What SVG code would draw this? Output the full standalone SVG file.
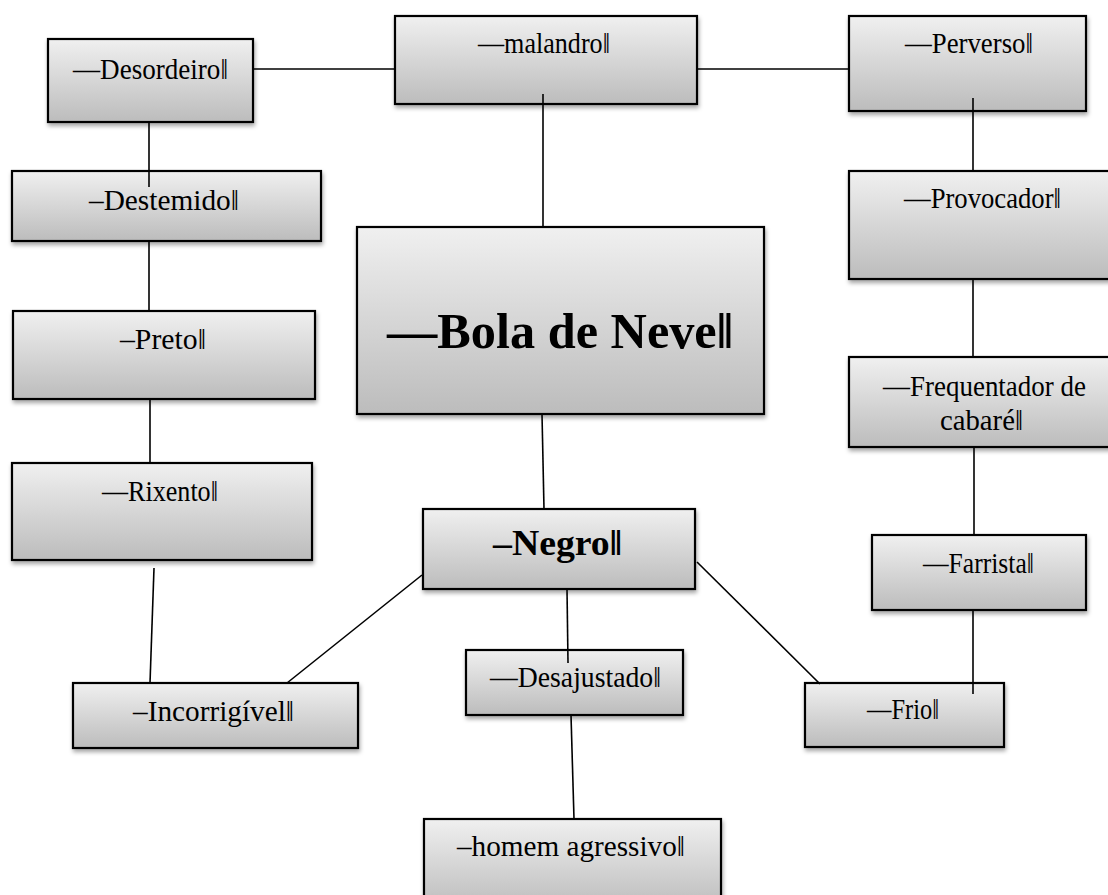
<svg xmlns="http://www.w3.org/2000/svg" width="1108" height="895" viewBox="0 0 1108 895">
<defs>
<linearGradient id="g" x1="0" y1="0" x2="0" y2="1">
<stop offset="0" stop-color="#f0f0f0"/>
<stop offset="1" stop-color="#bcbcbc"/>
</linearGradient>
<filter id="sh" x="-5%" y="-5%" width="115%" height="125%">
<feDropShadow dx="1" dy="3" stdDeviation="2" flood-color="#000" flood-opacity="0.35"/>
</filter>
</defs>
<style>
.box{fill:url(#g);stroke:#000;stroke-width:2.2;filter:url(#sh)}
.t{font-family:"Liberation Serif","Times New Roman",serif;font-size:29px;fill:#000}
.b{font-family:"Liberation Serif","Times New Roman",serif;font-weight:bold;fill:#000}
.c line{stroke:#000;stroke-width:1.6}
</style>
<rect width="1108" height="895" fill="#fff"/>
<g id="n-desordeiro"><rect class="box" x="48" y="39" width="205" height="83"/><text class="t" x="73" y="79" textLength="155" lengthAdjust="spacingAndGlyphs">—Desordeiro‖</text></g>
<g id="n-malandro"><rect class="box" x="395" y="16" width="302" height="88"/><text class="t" x="478" y="53" textLength="132" lengthAdjust="spacingAndGlyphs">—malandro‖</text></g>
<g id="n-perverso"><rect class="box" x="849" y="16" width="237" height="95"/><text class="t" x="905" y="53" textLength="128" lengthAdjust="spacingAndGlyphs">—Perverso‖</text></g>
<g id="n-destemido"><rect class="box" x="12" y="171" width="309" height="70"/><text class="t" x="89" y="210" textLength="150" lengthAdjust="spacingAndGlyphs">–Destemido‖</text></g>
<g id="n-provocador"><rect class="box" x="849" y="171" width="265" height="108"/><text class="t" x="904" y="208" textLength="157" lengthAdjust="spacingAndGlyphs">—Provocador‖</text></g>
<g id="n-bola"><rect class="box" x="357" y="227" width="407" height="187"/><text class="b" font-size="51" x="387" y="348" textLength="346" lengthAdjust="spacingAndGlyphs">—Bola de Neve‖</text></g>
<g id="n-preto"><rect class="box" x="13" y="311" width="302" height="88"/><text class="t" x="120" y="349" textLength="86" lengthAdjust="spacingAndGlyphs">–Preto‖</text></g>
<g id="n-frequentador"><rect class="box" x="849" y="357" width="265" height="90"/><text class="t" x="883" y="396" textLength="203" lengthAdjust="spacingAndGlyphs">—Frequentador de</text><text class="t" x="940" y="430" textLength="83" lengthAdjust="spacingAndGlyphs">cabaré‖</text></g>
<g id="n-rixento"><rect class="box" x="12" y="463" width="300" height="97"/><text class="t" x="102" y="501" textLength="116" lengthAdjust="spacingAndGlyphs">—Rixento‖</text></g>
<g id="n-negro"><rect class="box" x="423" y="509" width="272" height="80"/><text class="b" font-size="36" x="493" y="555" textLength="129" lengthAdjust="spacingAndGlyphs">–Negro‖</text></g>
<g id="n-farrista"><rect class="box" x="872" y="535" width="214" height="75"/><text class="t" x="923" y="573" textLength="111" lengthAdjust="spacingAndGlyphs">—Farrista‖</text></g>
<g id="n-incorrigivel"><rect class="box" x="73" y="683" width="285" height="65"/><text class="t" x="133" y="721" textLength="161" lengthAdjust="spacingAndGlyphs">–Incorrigível‖</text></g>
<g id="n-desajustado"><rect class="box" x="466" y="650" width="217" height="65"/><text class="t" x="490" y="687" textLength="171" lengthAdjust="spacingAndGlyphs">—Desajustado‖</text></g>
<g id="n-frio"><rect class="box" x="805" y="683" width="199" height="64"/><text class="t" x="867" y="719" textLength="72" lengthAdjust="spacingAndGlyphs">—Frio‖</text></g>
<g id="n-homem"><rect class="box" x="424" y="819" width="297" height="90"/><text class="t" x="457" y="856" textLength="228" lengthAdjust="spacingAndGlyphs">–homem agressivo‖</text></g>
<g id="connectors" class="c">
<line x1="253" y1="69" x2="395" y2="69"/>
<line x1="697" y1="69" x2="849" y2="69"/>
<line x1="543" y1="94" x2="543" y2="227"/>
<line x1="542" y1="414" x2="544" y2="509"/>
<line x1="149" y1="122" x2="149" y2="187"/>
<line x1="149" y1="241" x2="149" y2="311"/>
<line x1="150" y1="399" x2="150" y2="463"/>
<line x1="154" y1="568" x2="150" y2="683"/>
<line x1="422" y1="575" x2="287" y2="683"/>
<line x1="567" y1="589" x2="568" y2="663"/>
<line x1="571" y1="715" x2="574" y2="819"/>
<line x1="697" y1="562" x2="820" y2="684"/>
<line x1="973" y1="98" x2="973" y2="171"/>
<line x1="973" y1="279" x2="973" y2="358"/>
<line x1="974" y1="447" x2="974" y2="535"/>
<line x1="973" y1="610" x2="973" y2="694"/>
</g>
</svg>
